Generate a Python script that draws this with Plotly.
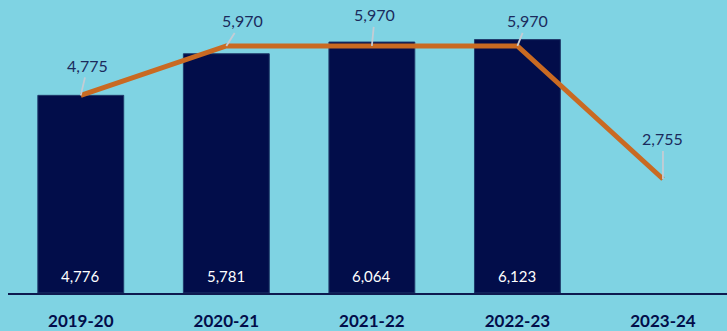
import plotly.graph_objects as go

categories = ["2019-20", "2020-21", "2021-22", "2022-23", "2023-24"]
bar_values = [4776, 5781, 6064, 6123, None]
line_values = [4775, 5970, 5970, 5970, 2755]
label_offsets = [(7, -30), (16, -25), (3, -31), (10, -25), (0, -40)]

navy = "#020d4a"
orange = "#c96a22"
bg = "#7fd3e3"

fig = go.Figure()
fig.add_trace(go.Bar(
    x=categories, y=bar_values,
    marker=dict(color=navy, line=dict(color="#1f3a6a", width=1)),
    width=0.59,
))
fig.add_trace(go.Scatter(
    x=categories, y=line_values, mode="lines",
    line=dict(color=orange, width=5),
))

for c, v in zip(categories, bar_values):
    if v is None:
        continue
    fig.add_annotation(
        x=c, y=0, text=f"{v:,}", showarrow=False, yanchor="bottom", yshift=6,
        font=dict(color="white", size=15, family="Lato"),
    )

for c, v, (ax, ay) in zip(categories, line_values, label_offsets):
    fig.add_annotation(
        x=c, y=v, text=f"{v:,}", showarrow=True, arrowhead=0,
        arrowwidth=1.8, arrowcolor="#c4ccd4", ax=ax, ay=ay,
        standoff=0, borderpad=2,
        font=dict(color="#1b2a5c", size=16, family="Lato"),
    )

fig.update_layout(
    width=727, height=331,
    margin=dict(l=8, r=0, t=0, b=35),
    paper_bgcolor=bg, plot_bgcolor=bg,
    showlegend=False,
    bargap=0.41,
)
fig.update_xaxes(
    range=[-0.5, 4.44], showgrid=False, zeroline=False,
    showline=True, linecolor="#0d1a4f", linewidth=2,
    ticks="outside", ticklen=12, tickcolor="rgba(0,0,0,0)",
    tickfont=dict(color=navy, size=17, family="Lato", weight="bold"),
)
fig.update_yaxes(range=[0, 7080], visible=False, showgrid=False, zeroline=False)

fig.write_html("out.html")
